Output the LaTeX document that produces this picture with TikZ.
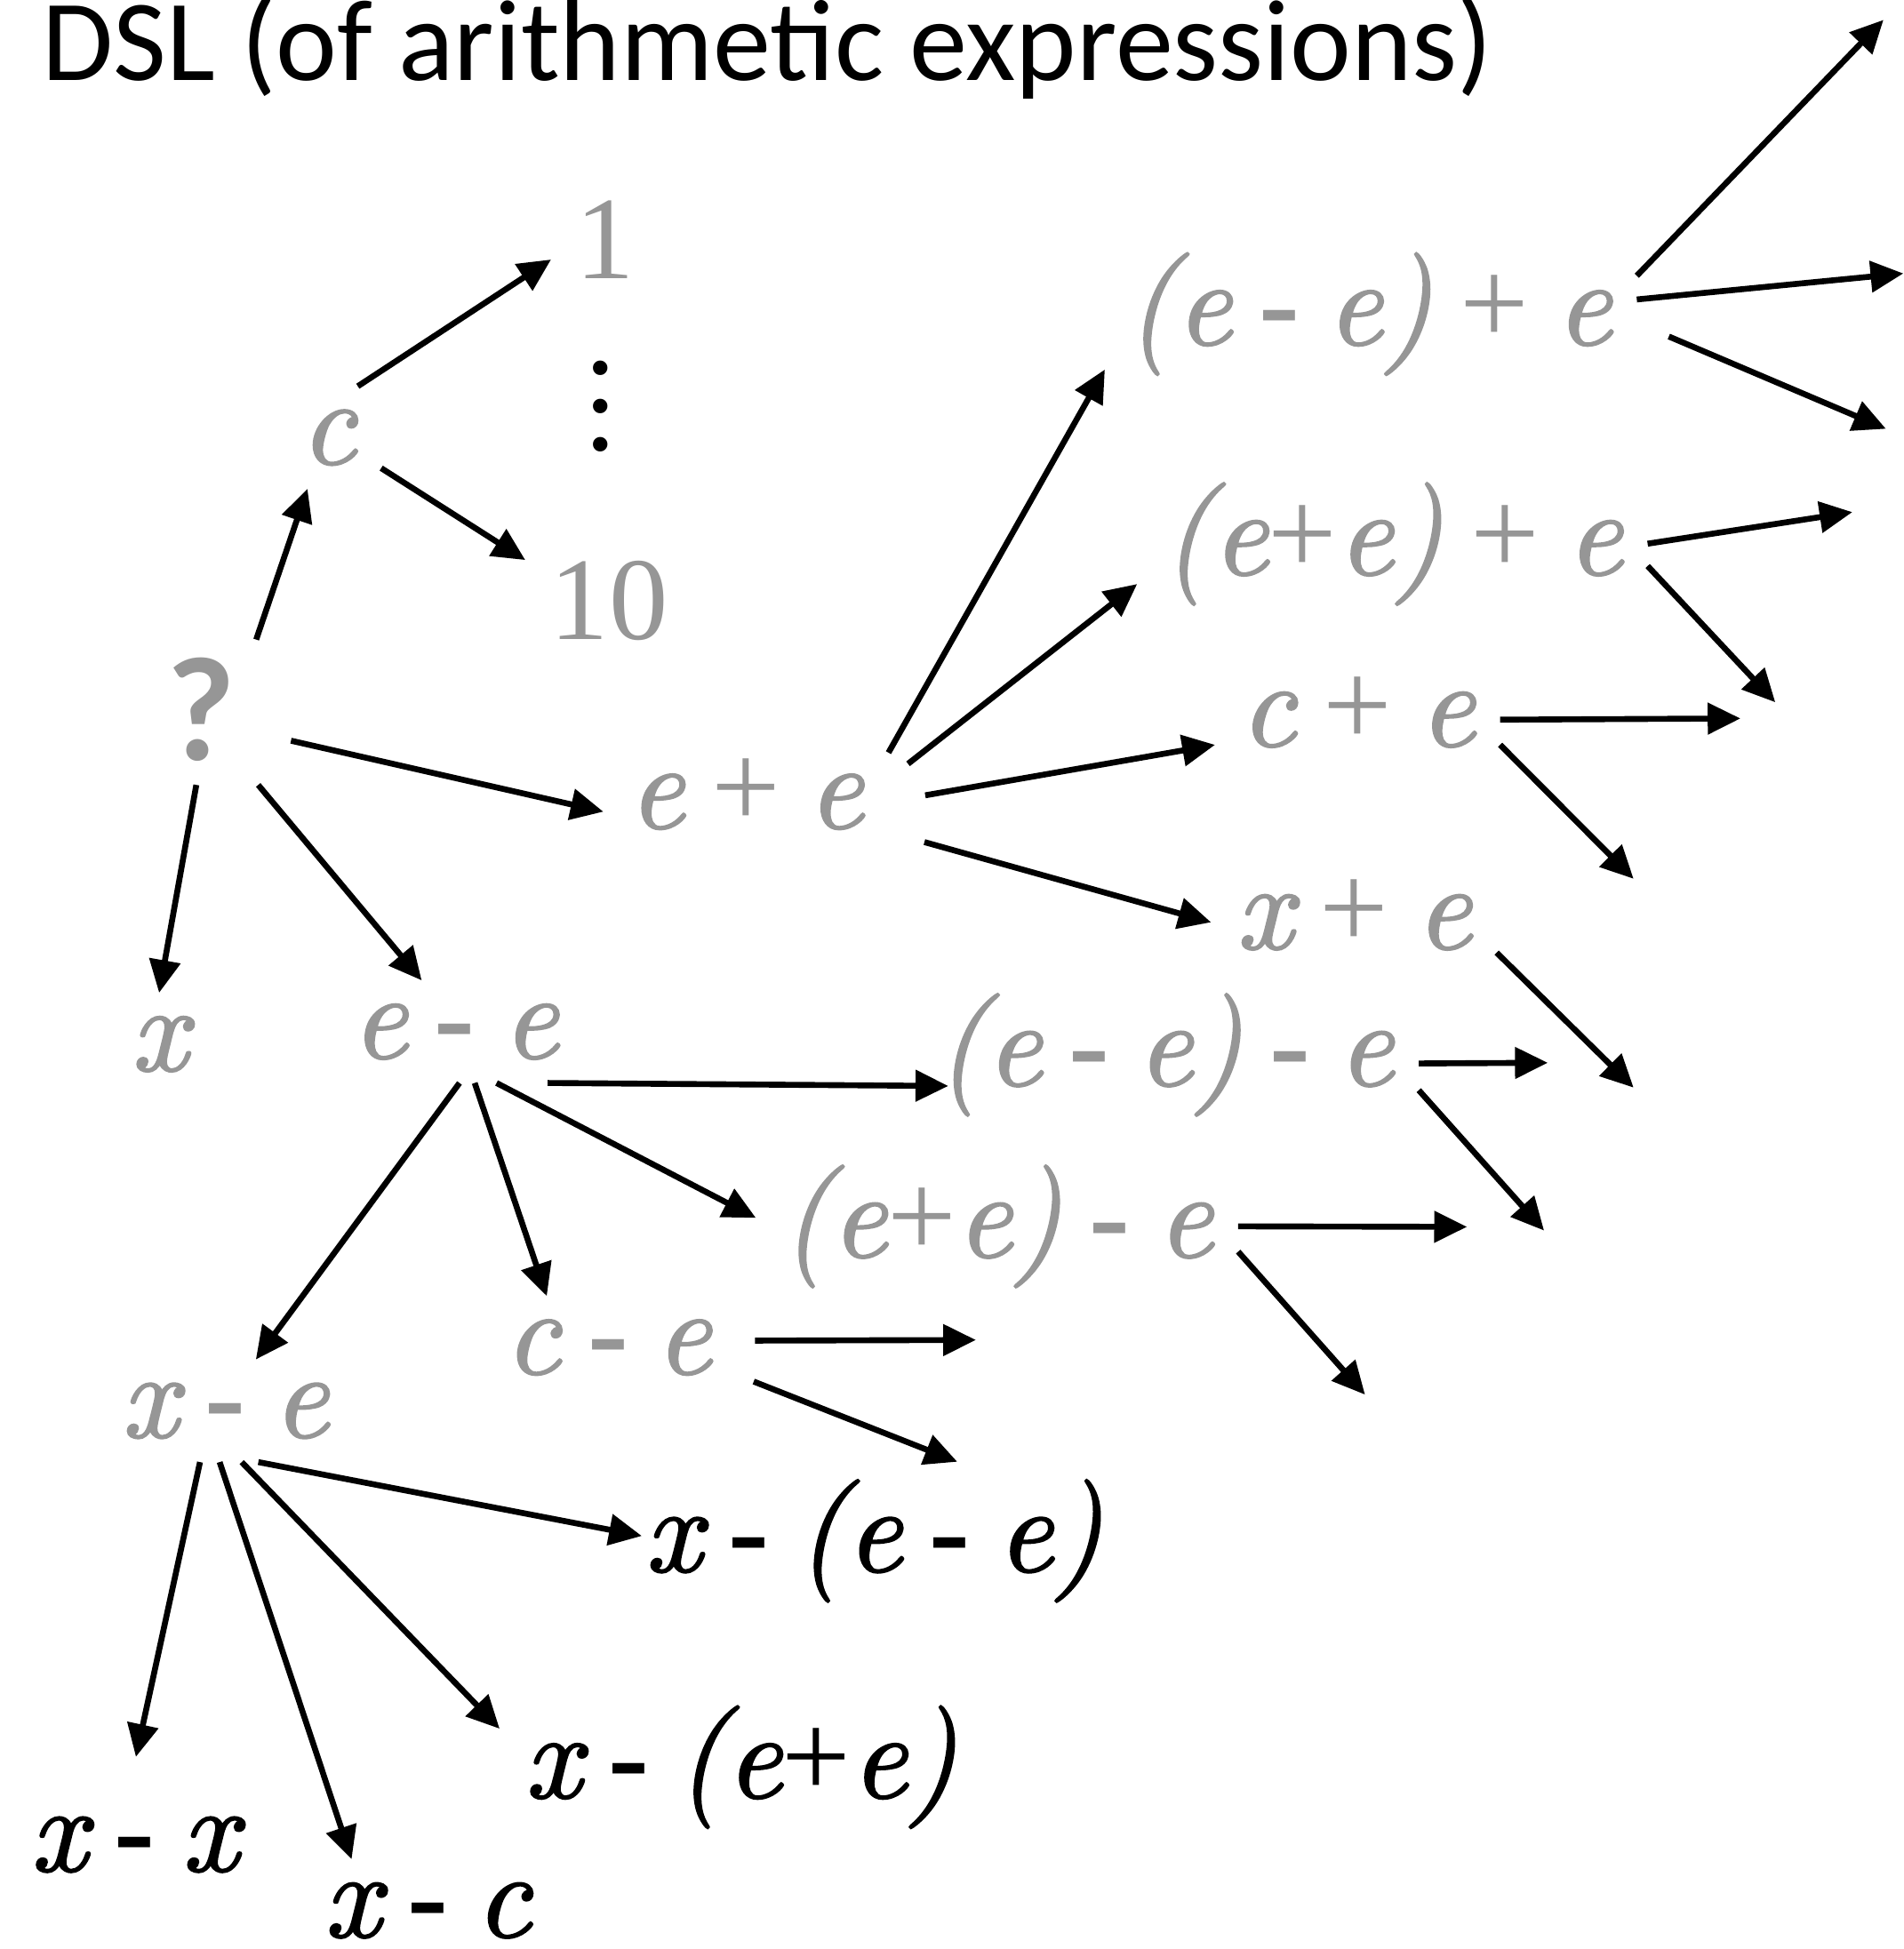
\documentclass[tikz,border=0pt]{standalone}
\usepackage{fontspec}
\newfontfamily\opfont{Liberation Serif}
\newfontfamily\titlefont{Carlito}
\newfontfamily\exfam{lmroman10-italic.otf}[FakeBold=1.5]
\usetikzlibrary{arrows.meta}
\definecolor{ExprGray}{RGB}{150,150,150}
\newcommand{\mns}{{\opfont\upshape\bfseries -}}
\newcommand{\pls}{{\opfont\upshape +}}
\newcommand{\exprfont}{\exfam\fontsize{28}{34}\selectfont\spaceskip .22em\relax}

\begin{document}
\begin{tikzpicture}[>={Triangle[length=7.5pt,width=7pt]},
    expr/.style={text=ExprGray,font=\exprfont,text height=12.1pt,text depth=0pt,inner sep=0pt,outer sep=.2cm},
    term/.style={expr,text=black},
    num/.style={expr,font=\opfont\fontsize{27}{32}\selectfont,text height=18.3pt},
    qmark/.style={expr,font=\titlefont\bfseries\fontsize{34}{40}\selectfont,text height=21.9pt},
    arr/.style={->,line width=1.35pt}]
  \useasboundingbox (0,0) rectangle (15.31,-15.68);
  \node[anchor=base west,inner sep=0pt,font=\titlefont\fontsize{26.5}{32}\selectfont] (title) at (.33,-.65) {DSL (of arithmetic expressions)};

  \node[qmark] (q) at (1.62,-5.73) {?};
  \node[expr] (c) at (2.64,-3.52) {c};
  \node[num] (one) at (4.87,-1.92) {1};
  \node[inner sep=0pt,align=center,font=\opfont\fontsize{28}{8.7}\selectfont] (vdots) at (4.83,-3.27) {.\\.\\.};
  \node[num] (ten) at (4.90,-4.82) {10};
  \node[expr] (x) at (1.28,-8.40) {x};
  \node[expr] (eme) at (3.66,-8.30) {e \mns{} e};
  \node[expr] (ee) at (6.00,-6.45) {e \pls{} e};
  \node[expr] (emepe) at (11.01,-2.56) {(e \mns{} e) \pls{} e};
  \node[expr] (epepe) at (11.20,-4.41) {(e\pls{}e) \pls{} e};
  \node[expr] (cpe) at (10.92,-5.79) {c \pls{} e};
  \node[expr] (xpe) at (10.89,-7.42) {x \pls{} e};
  \node[expr] (emee) at (9.37,-8.52) {(e \mns{} e) \mns{} e};
  \node[expr] (epee) at (8.02,-9.90) {(e\pls{}e) \mns{} e};
  \node[expr] (cme) at (4.89,-10.84) {c \mns{} e};
  \node[expr] (xme) at (1.81,-11.35) {x \mns{} e};
  \node[term] (xmeme) at (7.03,-12.43) {x \mns{} (e \mns{} e)};
  \node[term] (xmepe) at (5.96,-14.25) {x \mns{} (e\pls{}e)};
  \node[term] (xmx) at (1.08,-14.84) {x \mns{} x};
  \node[term] (xmc) at (3.44,-15.37) {x \mns{} c};

  % open ends of the search
  \coordinate (f1) at (15.15,-0.16);
  \coordinate (f2) at (15.31,-2.20);
  \coordinate (f3) at (15.17,-3.45);
  \coordinate (f4) at (14.90,-4.12);
  \coordinate (f5) at (14.28,-5.65);
  \coordinate (f6) at (14.00,-5.78);
  \coordinate (f7) at (13.14,-7.07);
  \coordinate (f8) at (13.14,-8.75);
  \coordinate (f9) at (12.45,-8.55);
  \coordinate (f10) at (12.42,-9.90);
  \coordinate (f11) at (11.80,-9.87);
  \coordinate (f12) at (10.98,-11.22);
  \coordinate (f13) at (7.85,-10.78);
  \coordinate (f14) at (7.70,-11.76);

  \draw[arr] (q.53) -- (c.248);
  \draw[arr,shorten <=.25cm] (q.-20) -- (ee.184);
  \draw[arr] (q.266) -- (x.90);
  \draw[arr] (q.-52) -- (eme.123);
  \draw[arr] (c.60) -- (one.201);
  \draw[arr] (c.-30) -- (ten.155);

  \draw[arr] (ee.19) -- (emepe.191);
  \draw[arr,shorten <=.2cm] (ee.9) -- (epepe.188);
  \draw[arr,shorten <=.3cm] (ee.0) -- (cpe.190);
  \draw[arr,shorten <=.3cm] (ee.-12) -- (xpe.180);

  \draw[arr,shorten >=-.3cm] (eme.-29) -- (emee.186);
  \draw[arr] (eme.-51) -- (epee.177);
  \draw[arr] (eme.-69) -- (cme.140);
  \draw[arr] (eme.-85) -- (xme.59);

  \draw[arr,shorten >=-.18cm] (xme.-57) -- (xmeme.177);
  \draw[arr] (xme.-72) -- (xmepe.170);
  \draw[arr] (xme.-96) -- (xmc.146);
  \draw[arr,shorten >=.3cm] (xme.-116) -- (xmx.97);

  \draw[arr] (emepe.9) -- (f1);
  \draw[arr] (emepe.4) -- (f2);
  \draw[arr,shorten <=.28cm] (emepe.-1) -- (f3);
  \draw[arr] (epepe.1) -- (f4);
  \draw[arr] (epepe.-4) -- (f5);
  \draw[arr] (cpe.0) -- (f6);
  \draw[arr] (cpe.-10) -- (f7);
  \draw[arr] (xpe.-12) -- (f8);
  \draw[arr] (emee.-1) -- (f9);
  \draw[arr] (emee.-7) -- (f10);
  \draw[arr] (epee.1) -- (f11);
  \draw[arr] (epee.-5) -- (f12);
  \draw[arr,shorten <=.15cm] (cme.3) -- (f13);
  \draw[arr,shorten <=.15cm] (cme.-12) -- (f14);
\end{tikzpicture}
\end{document}
